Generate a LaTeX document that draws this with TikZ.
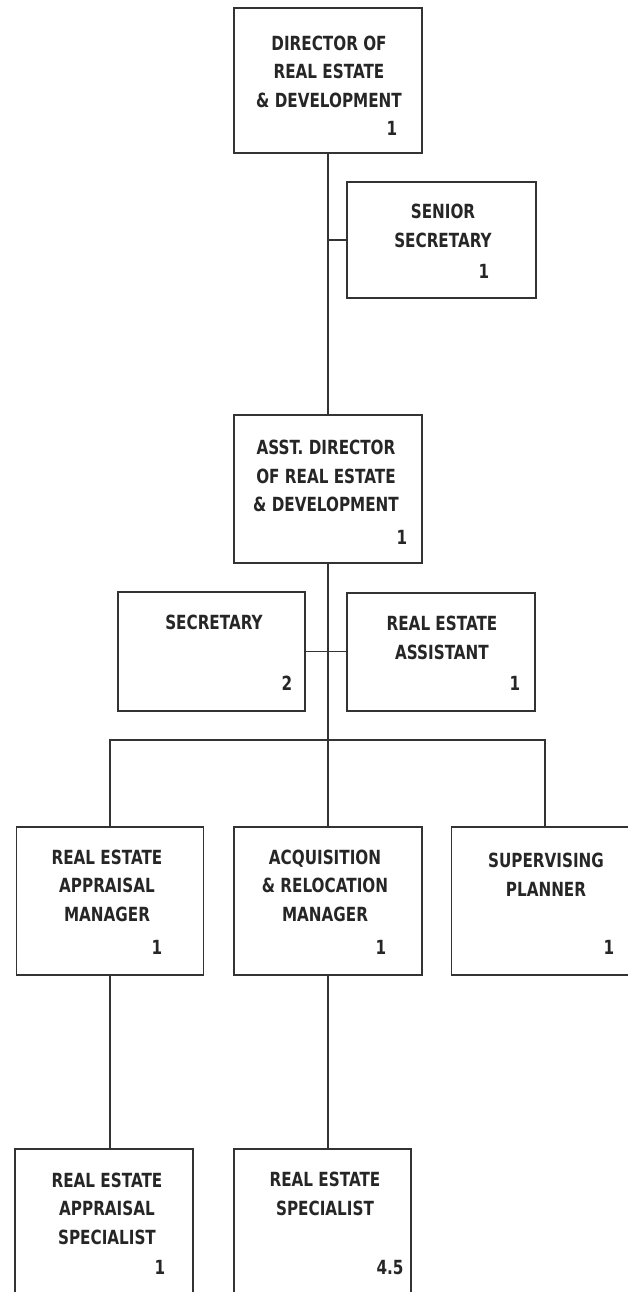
\documentclass[tikz,border=0pt]{standalone}
\usepackage{fontspec}
\newfontfamily\chartfont{DejaVu Sans}[FakeStretch=0.78]
\usetikzlibrary{positioning}

\begin{document}
\begin{tikzpicture}[
  x=1pt, y=-1pt,
  font=\chartfont\bfseries\fontsize{19.5}{28.5}\selectfont,
  unit/.style={draw=black!80, line width=1.7pt, minimum width=188pt,
               minimum height=148pt, inner sep=0pt},
  ttl/.style={align=center, text=black!85, inner sep=0pt},
  cnt/.style={text=black!85, inner sep=0pt},
  ln/.style={draw=black!80, line width=1.7pt}
]
\useasboundingbox (0,0) rectangle (628,1292);

\node[unit, minimum height=145pt] (dir) at (328,80.5) {};
\node[unit, minimum width=189pt, minimum height=116pt] (sen) at (441.5,240) {};
\node[unit] (asst) at (328,489) {};
\node[unit, minimum width=187pt, minimum height=119pt] (sec) at (211.5,651.5) {};
\node[unit, minimum height=118pt] (asi) at (441,652) {};
\node[unit, minimum width=187pt] (ram) at (110,901) {};
\node[unit] (arm) at (328,901) {};
\node[unit, minimum width=187pt] (spl) at (545,901) {};
\node[unit, minimum width=178pt, minimum height=161pt] (ras) at (104,1229.5) {};
\node[unit, minimum width=177pt, minimum height=161pt] (res) at (322.5,1229.5) {};

\node[ttl] (dirT)  at (329,71.5)  {DIRECTOR OF\\REAL ESTATE\\\& DEVELOPMENT};
\node[ttl] (senT)  at (443,226)   {SENIOR\\SECRETARY};
\node[ttl] (asstT) at (326,476)   {ASST. DIRECTOR\\OF REAL ESTATE\\\& DEVELOPMENT};
\node[ttl] (secT)  at (214,622)   {SECRETARY};
\node[ttl] (asiT)  at (442,638)   {REAL ESTATE\\ASSISTANT};
\node[ttl] (ramT)  at (107,885.5) {REAL ESTATE\\APPRAISAL\\MANAGER};
\node[ttl] (armT)  at (325,885.5) {ACQUISITION\\\& RELOCATION\\MANAGER};
\node[ttl] (splT)  at (546,875)   {SUPERVISING\\PLANNER};
\node[ttl] (rasT)  at (107,1208.5) {REAL ESTATE\\APPRAISAL\\SPECIALIST};
\node[ttl] (resT)  at (325,1194)  {REAL ESTATE\\SPECIALIST};

\node[cnt] (dirN)  at (392,128)  {1};
\node[cnt] (senN)  at (484,271)  {1};
\node[cnt] (asstN) at (402,537)  {1};
\node[cnt] (secN)  at (287,683)  {2};
\node[cnt] (asiN)  at (515,683)  {1};
\node[cnt] (ramN)  at (157,947)  {1};
\node[cnt] (armN)  at (381,947)  {1};
\node[cnt] (splN)  at (609,947)  {1};
\node[cnt] (rasN)  at (160,1267) {1};
\node[cnt] (resN)  at (390,1268) {4.5};

\coordinate (bar) at (328,740);

\draw[ln] (dir.south) -- (asst.north);
\draw[ln] (sen.west) -- (sen.west -| dir.south);
\draw[ln] (asst.south) -- (arm.north);
\draw[ln] (sec.east) -- (sec.east -| asi.west);
\draw[ln] (ram.north) |- (bar) -| (spl.north);
\draw[ln] (ram.south) -- (ram.south |- ras.north);
\draw[ln] (arm.south) -- (arm.south |- res.north);
\end{tikzpicture}
\end{document}
